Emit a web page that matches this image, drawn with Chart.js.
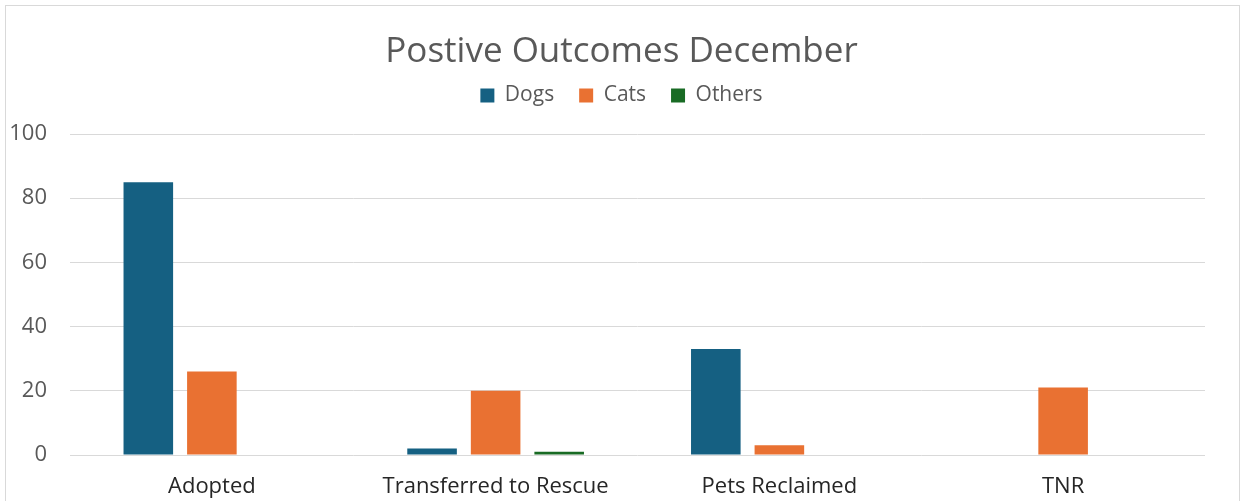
<!DOCTYPE html>
<html>
<head>
<meta charset="utf-8">
<script src="https://cdn.jsdelivr.net/npm/chart.js@4"></script>
<style>
  html, body { margin: 0; padding: 0; background: #fff; overflow: hidden; }
  #frame { position: absolute; left: 5px; top: 5px; width: 1233px; height: 600px; border: 1px solid #d9d9d9; }
  #wrap { position: absolute; left: 0; top: 0; width: 1243px; height: 501px; }
</style>
</head>
<body>
<div id="frame"></div>
<div id="wrap"><canvas id="chart"></canvas></div>
<script>
  // categorias y series
  const categorias = ["Adopted", "Transferred to Rescue", "Pets Reclaimed", "TNR"];
  const dogs = [85, 2, 33, 0];
  const cats = [26, 20, 3, 21];
  const others = [0, 1, 0, 0];
  const yTicks = [0, 20, 40, 60, 80, 100];

  const FONT = "'Open Sans', sans-serif";

  function serie(label, data, color) {
    return {
      label: label,
      data: data,
      backgroundColor: color,
      borderWidth: 0,
      categoryPercentage: 0.672,
      barPercentage: 0.78
    };
  }

  // deja mas aire debajo de la leyenda
  const legendSpace = {
    id: "legendSpace",
    beforeInit(chart) {
      const fit = chart.legend.fit;
      chart.legend.fit = function () {
        fit.call(this);
        this.height += 18;
      };
    }
  };

  new Chart(document.getElementById("chart"), {
    type: "bar",
    data: {
      labels: categorias,
      datasets: [
        serie("Dogs", dogs, "#156082"),
        serie("Cats", cats, "#E97132"),
        serie("Others", others, "#196B24")
      ]
    },
    plugins: [legendSpace],
    options: {
      responsive: true,
      maintainAspectRatio: false,
      animation: false,
      layout: { padding: 0 },
      plugins: {
        title: {
          display: true,
          text: "Postive Outcomes December",
          color: "#595959",
          font: { family: FONT, size: 35, weight: "normal", lineHeight: 1 },
          padding: { top: 35, bottom: -10 }
        },
        legend: {
          position: "top",
          labels: {
            color: "#595959",
            font: { family: FONT, size: 21 },
            boxWidth: 14,
            boxHeight: 14,
            padding: 25
          }
        },
        tooltip: { enabled: false }
      },
      scales: {
        x: {
          grid: { display: false, drawTicks: false },
          border: { display: false },
          ticks: { color: "#262626", font: { family: FONT, size: 22 }, padding: 19, maxRotation: 0 },
          afterFit: s => { s.height = 46; }
        },
        y: {
          min: 0,
          max: 100,
          afterBuildTicks: axis => { axis.ticks = yTicks.map(v => ({ value: v })); },
          grid: { color: "#d9d9d9", lineWidth: 1, drawTicks: false },
          border: { display: false },
          ticks: { color: "#595959", font: { family: FONT, size: 22 }, padding: 23 },
          afterFit: s => { s.width = 70; }
        },
        // margen derecho vacio
        yRight: {
          position: "right",
          grid: { display: false, drawTicks: false },
          border: { display: false },
          ticks: { display: false },
          afterFit: s => { s.width = 38; }
        }
      }
    }
  });
</script>
</body>
</html>
